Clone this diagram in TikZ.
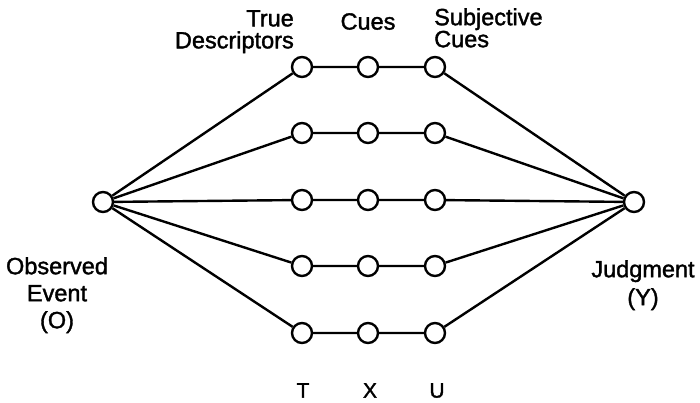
\documentclass[tikz,border=0pt]{standalone}
\usepackage{fontspec}
\setmainfont{Liberation Sans}
\newfontfamily\lblfont{Liberation Sans}[FakeBold=1.5]
\usetikzlibrary{positioning}

\begin{document}
\begin{tikzpicture}[x=1pt,y=-1pt, line width=2.4pt]
	\useasboundingbox (0,0) rectangle (700,403);
	\tikzset{cue/.style = {draw, circle, minimum size = 20pt, inner sep = 0pt, fill = white}}
	\tikzset{lbl/.style = {align = center, inner sep = 0pt, font = \lblfont\fontsize{23.5}{22}\selectfont}}

	\node [cue] (O) at (103,202) {};
	\node [cue] (Y) at (634,202) {};

	\node [cue] (T1) at (302,67) {};
	\node [cue] (T2) at (302,133) {};
	\node [cue] (T3) at (302,200) {};
	\node [cue] (T4) at (302,266) {};
	\node [cue] (T5) at (302,333) {};
	\node [cue] (X1) at (368,67) {};
	\node [cue] (X2) at (368,133) {};
	\node [cue] (X3) at (368,200) {};
	\node [cue] (X4) at (368,266) {};
	\node [cue] (X5) at (368,333) {};
	\node [cue] (U1) at (435,67) {};
	\node [cue] (U2) at (435,133) {};
	\node [cue] (U3) at (435,200) {};
	\node [cue] (U4) at (435,266) {};
	\node [cue] (U5) at (435,333) {};

	\node [lbl, align = right, anchor = north east] (tdl) at (295,9) {True\\Descriptors};
	\node [lbl, anchor = north] (cl) at (368,12) {Cues};
	\node [lbl, align = left, anchor = north west] (scl) at (433,7) {Subjective\\Cues};
	\node [lbl, anchor = north, font = \lblfont\fontsize{23.5}{27}\selectfont] (ol) at (57,256) {Observed\\Event\\(O)};
	\node [lbl, anchor = north, font = \lblfont\fontsize{23.5}{28}\selectfont] (yl) at (643,259) {Judgment\\(Y)};
	\node [lbl, anchor = north, font = \lblfont\fontsize{21}{21}\selectfont] (tl) at (303,382) {T};
	\node [lbl, anchor = north, font = \lblfont\fontsize{21}{21}\selectfont] (xl) at (370,382) {X};
	\node [lbl, anchor = north, font = \lblfont\fontsize{21}{21}\selectfont] (ul) at (437,382) {U};

	\draw (O) -- (T1) -- (X1) -- (U1) -- (Y);
	\draw (O) -- (T2) -- (X2) -- (U2) -- (Y);
	\draw (O) -- (T3) -- (X3) -- (U3) -- (Y);
	\draw (O) -- (T4) -- (X4) -- (U4) -- (Y);
	\draw (O) -- (T5) -- (X5) -- (U5) -- (Y);
\end{tikzpicture}
\end{document}
